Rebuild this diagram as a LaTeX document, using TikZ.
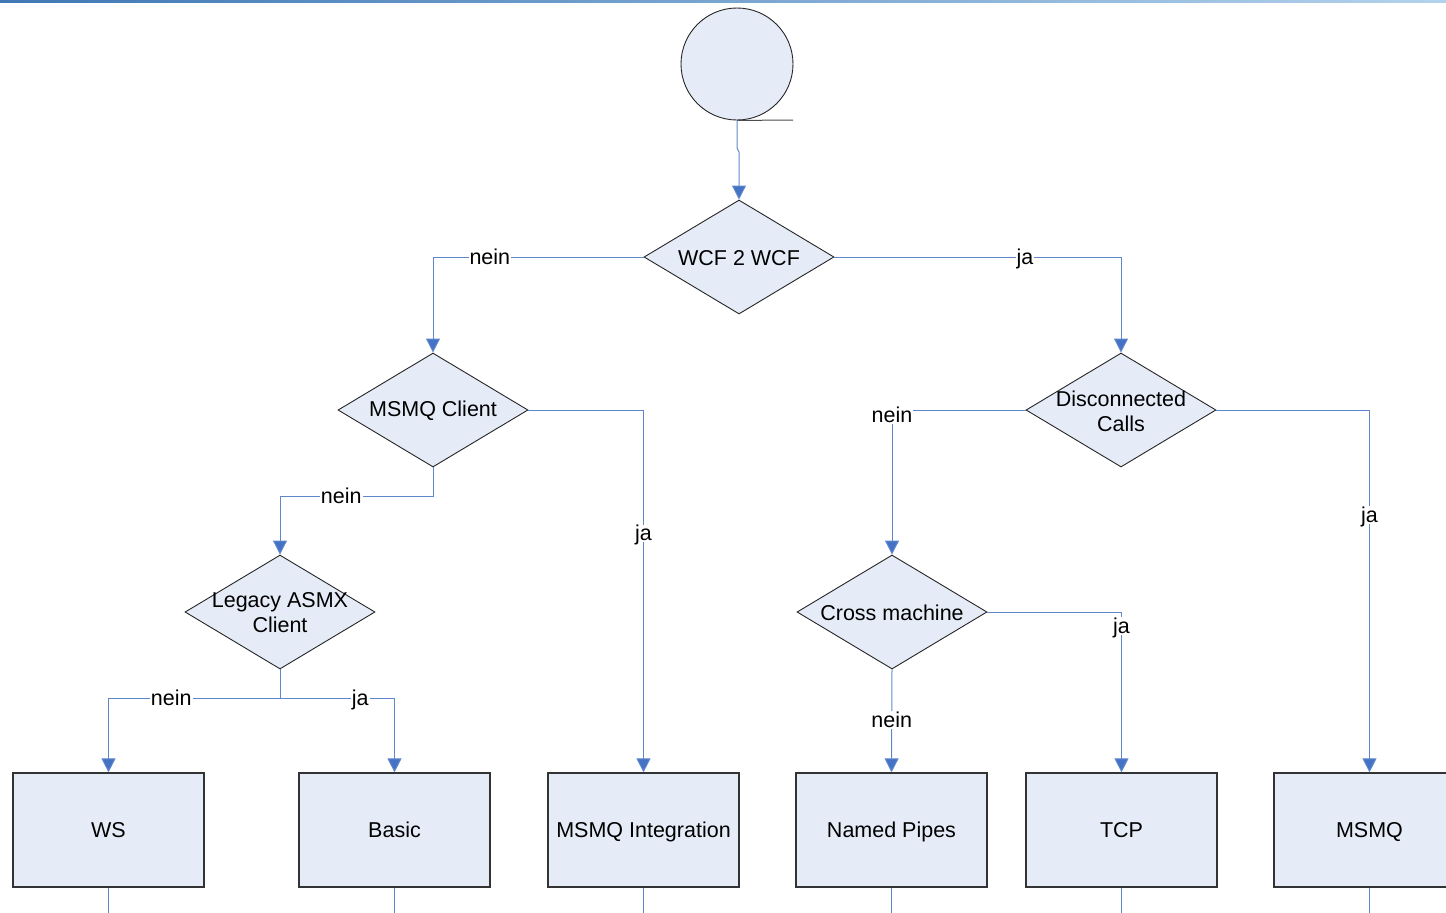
\documentclass[tikz,border=0pt]{standalone}
\usepackage{fontspec}
\setmainfont{Liberation Sans}
\usetikzlibrary{shapes.geometric,arrows.meta}
\definecolor{shapefill}{HTML}{E6ECF7}
\definecolor{connline}{HTML}{5F88CC}
\definecolor{connhead}{HTML}{4472C4}
\definecolor{topleft}{HTML}{3F78B5}
\definecolor{topright}{HTML}{B3D2EC}
\tikzset{
  every node/.style={font=\fontsize{21.5}{25}\selectfont},
  dia/.style={diamond, draw=black!85, line width=0.9pt, fill=shapefill, minimum width=190pt, minimum height=114pt, inner sep=0pt},
  box/.style={rectangle, draw=black!80, line width=1.2pt, fill=shapefill, minimum width=191pt, minimum height=114pt, inner sep=0pt, text height=15.4pt, text depth=0pt},
  conn/.style={draw=connline, line width=1pt},
  arr/.style={conn, -{Triangle[width=14pt,length=14pt,fill=connhead]}},
  lbl/.style={fill=white, inner sep=1pt, text=black, text height=15.4pt, text depth=0pt},
  txt/.style={align=center, inner sep=0pt, yshift=-1pt}
}
\begin{document}
\begin{tikzpicture}[x=1pt,y=-1pt]
\useasboundingbox (0,0) rectangle (1446,913);
\clip (0,0) rectangle (1446,913);
\shade[left color=topleft, right color=topright] (0,0) rectangle (1446,2);

% start circle
\node[circle, draw=black!85, line width=0.9pt, fill=shapefill, minimum size=112pt, inner sep=0pt] (start) at (737,64) {};
\coordinate (ctail) at (793,120);
\draw[black!70, line width=1pt] (start.south) -- (ctail);

% decisions
\node[dia] (wcf) at (739,257) {};
\node[txt] at (wcf) {WCF 2 WCF};
\node[dia] (msmqc) at (433,410) {};
\node[txt] at (msmqc) {MSMQ Client};
\node[dia] (disc) at (1121,410) {};
\node[txt] at (disc) {Disconnected\\Calls};
\node[dia] (legacy) at (280,612) {};
\node[txt] at (legacy) {Legacy ASMX\\Client};
\node[dia] (cross) at (892,612) {};
\node[txt] at (cross) {Cross machine};

% results
\node[box] (ws) at (108.5,830) {WS};
\node[box] (basic) at (394.5,830) {Basic};
\node[box] (msmqi) at (643.5,830) {MSMQ Integration};
\node[box] (named) at (891.5,830) {Named Pipes};
\node[box] (tcp) at (1121.5,830) {TCP};
\node[box] (msmq) at (1369.5,830) {MSMQ};

% connectors
\coordinate (j1) at (737,148);
\coordinate (j2) at (739,152);
\draw[arr] (start.south) -- (j1) -- (j2) -- (wcf.north);

\draw[arr] (wcf.west) -- node[lbl,pos=0.73]{nein} (wcf.west -| msmqc.north) -- (msmqc.north);
\draw[arr] (wcf.east) -- node[lbl,pos=0.665]{ja} (wcf.east -| disc.north) -- (disc.north);

\draw[arr] (msmqc.east) -- (msmqc.east -| msmqi.north) -- node[lbl,pos=0.34]{ja} (msmqi.north);
\coordinate (m1) at (433,496);
\draw[arr] (msmqc.south) -- (m1) -- node[lbl,pos=0.6]{nein} (m1 -| legacy.north) -- (legacy.north);

\coordinate (l1) at (280,698);
\draw[conn] (legacy.south) -- (l1);
\draw[arr] (l1) -- node[lbl,pos=0.634]{nein} (l1 -| ws.north) -- (ws.north);
\draw[arr] (l1) -- node[lbl,pos=0.70]{ja} (l1 -| basic.north) -- (basic.north);

\draw[arr] (disc.west) -- (disc.west -| cross.north) node[lbl,yshift=-5pt]{nein} -- (cross.north);
\draw[arr] (disc.east) -- (disc.east -| msmq.north) -- node[lbl,pos=0.29]{ja} (msmq.north);

\draw[arr] (cross.east) -- (cross.east -| tcp.north) -- node[lbl,pos=0.087]{ja} (tcp.north);
\draw[arr] (cross.south) -- node[lbl,pos=0.49]{nein} (named.north);

% tails below result boxes
\foreach \b in {ws,basic,msmqi,named,tcp,msmq}{
  \coordinate (\b-end) at (\b.south |- 0,913);
  \draw[conn] (\b.south) -- (\b-end);
}
\end{tikzpicture}
\end{document}
